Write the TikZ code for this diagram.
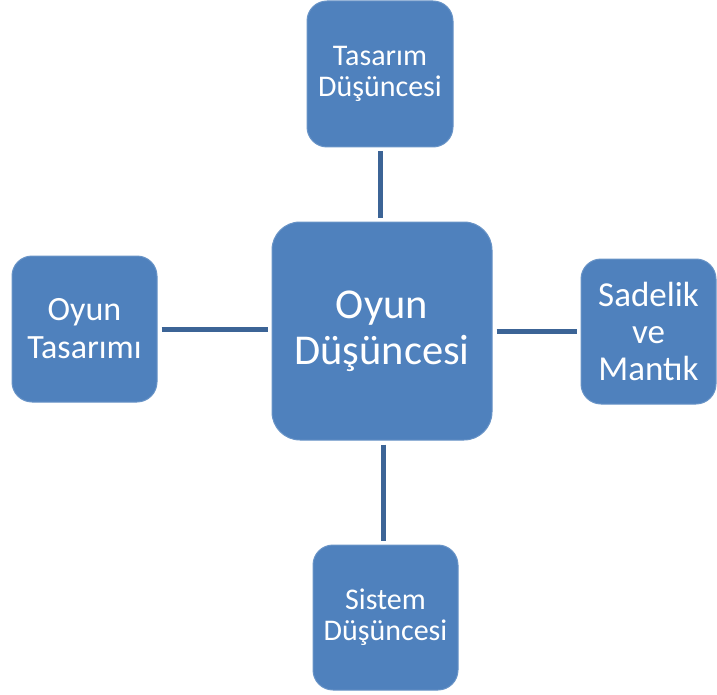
\documentclass[tikz,border=0pt]{standalone}
\usepackage{fontspec}
\setmainfont{Carlito}
\definecolor{boxfill}{HTML}{4F81BD}
\definecolor{linkcol}{HTML}{3C6496}
\begin{document}
\begin{tikzpicture}[x=1pt,y=-1pt,
  card/.style={rectangle, rounded corners=20pt, fill=boxfill, draw=boxfill!85!white,
    line width=1pt, text=white, align=center, inner sep=0pt},
  small/.style={card, font=\fontsize{30}{31}\selectfont},
  side/.style={card, font=\fontsize{34}{38}\selectfont},
  right/.style={card, font=\fontsize{35}{37}\selectfont},
  big/.style={card, rounded corners=28pt, font=\fontsize{42.5}{46}\selectfont},
  link/.style={draw=linkcol, line width=5pt, shorten <=4pt, shorten >=4pt}]
\useasboundingbox (0,0) rectangle (717,695);
\node[big, minimum width=220pt, minimum height=218pt] (mid) at (382,331) {Oyun\\Düşüncesi};
\node[small, minimum width=146pt, minimum height=146pt] (top) at (380,74) {Tasarım\\Düşüncesi};
\node[side, minimum width=145pt, minimum height=146pt] (left) at (84.5,329) {Oyun\\Tasarımı};
\node[right, minimum width=135pt, minimum height=145pt] (right) at (648.5,331.5) {Sadelik\\ve\\Mantık};
\node[small, minimum width=145pt, minimum height=145pt] (bottom) at (385.5,617.5) {Sistem\\Düşüncesi};
\draw[link] (top.south) -- (top.south |- mid.north);
\draw[link] (left.east) -- (left.east -| mid.west);
\draw[link] (mid.east |- right.west) -- (right.west);
\draw[link] ([xshift=1pt]mid.south) -- ([xshift=1pt]mid.south |- bottom.north);
\end{tikzpicture}
\end{document}
